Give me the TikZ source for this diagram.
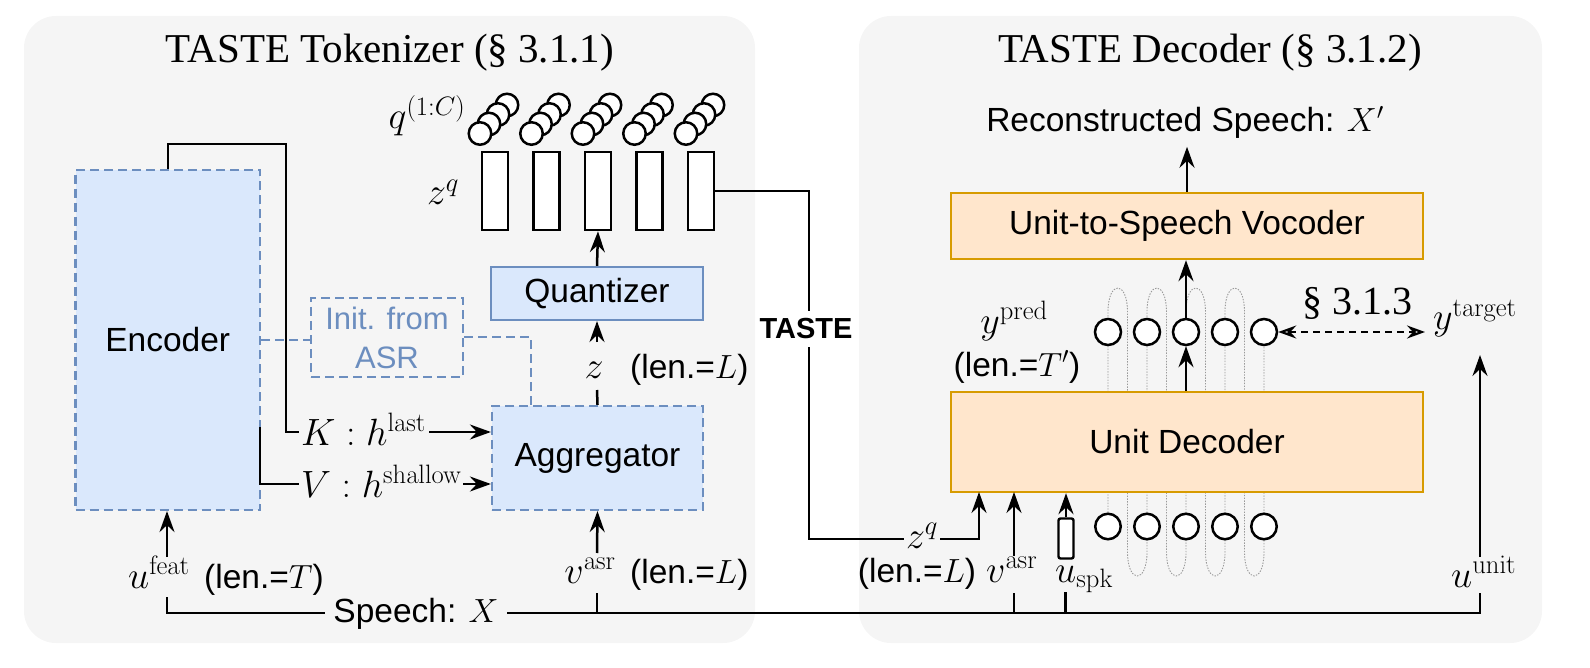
\RequirePackage{fix-cm}
\documentclass[tikz,border=0pt]{standalone}
\usepackage[no-math]{fontspec}
\newfontfamily\sfA{Liberation Sans}
\newfontfamily\serifT{Liberation Serif}
\usetikzlibrary{arrows.meta}
\definecolor{panel}{HTML}{F5F5F5}
\definecolor{bfill}{HTML}{DAE8FC}
\definecolor{bdraw}{HTML}{6C8EBF}
\definecolor{ofill}{HTML}{FFE6CC}
\definecolor{odraw}{HTML}{D79B00}
\definecolor{serpc}{HTML}{999999}
\begin{document}
\begin{tikzpicture}[x=1pt,y=-1pt,
  sf/.style={font=\sfA\fontsize{33.5}{40}\selectfont},
  mth/.style={font=\fontsize{38}{44}\selectfont},
  ttl/.style={font=\serifT\fontsize{41}{48}\selectfont},
  lab/.style={inner sep=0pt},
  conn/.style={line width=2.5pt, draw=black},
  arr/.style={conn, -{Stealth[length=21pt,width=15pt,inset=7pt]}},
  darr/.style={line width=2.2pt, draw=black, dash pattern=on 7pt off 5pt,
     {Stealth[open,length=18pt,width=13pt,inset=6pt]}-{Stealth[open,length=18pt,width=13pt,inset=6pt]}},
  bluebox/.style={draw=bdraw, fill=bfill, line width=2.2pt, inner sep=0pt, sf},
  bluedash/.style={bluebox, dash pattern=on 9pt off 5pt},
  initbox/.style={draw=bdraw, line width=2.2pt, dash pattern=on 9pt off 5pt, inner sep=0pt,
     text=bdraw, align=center, font=\sfA\fontsize{31}{39}\selectfont},
  initln/.style={draw=bdraw, line width=2.2pt, dash pattern=on 9pt off 5pt},
  orbox/.style={draw=odraw, fill=ofill, line width=2.4pt, inner sep=0pt, sf},
  circq/.style={circle, draw=black, fill=white, line width=2.5pt, minimum size=22.5pt, inner sep=0pt},
  circu/.style={circle, draw=black, fill=white, line width=2.5pt, minimum size=26pt, inner sep=0pt},
  zrect/.style={rectangle, draw=black, fill=white, line width=2.6pt, minimum width=26pt, minimum height=78pt, inner sep=0pt},
  spkrect/.style={rectangle, draw=black, fill=white, line width=2.4pt, rounded corners=2pt, minimum width=15pt, minimum height=40pt, inner sep=0pt},
  serp/.style={draw=serpc, line width=0.9pt, dash pattern=on 1.4pt off 1.4pt}
]
\useasboundingbox (0,0) rectangle (1590,668);
% panels
\fill[panel, rounded corners=32pt] (24,16) rectangle (755,643);
\fill[panel, rounded corners=32pt] (859,16) rectangle (1542,643);

% titles
\node[ttl, lab, anchor=base] (t1) at (390,63) {TASTE Tokenizer (§ 3.1.1)};
\node[ttl, lab, anchor=base] (t2) at (1210,63) {TASTE Decoder (§ 3.1.2)};

% serpentine dotted loops
\draw[serp] (1108,526.5) -- (1108,312) .. controls (1108,280) and (1127.5,280) .. (1127.5,312)
  -- (1127.5,552) .. controls (1127.5,584) and (1147,584) .. (1147,552)
  -- (1147,312) .. controls (1147,280) and (1166.5,280) .. (1166.5,312)
  -- (1166.5,552) .. controls (1166.5,584) and (1186,584) .. (1186,552)
  -- (1186,312) .. controls (1186,280) and (1205.5,280) .. (1205.5,312)
  -- (1205.5,552) .. controls (1205.5,584) and (1225,584) .. (1225,552)
  -- (1225,312) .. controls (1225,280) and (1244.5,280) .. (1244.5,312)
  -- (1244.5,552) .. controls (1244.5,584) and (1264,584) .. (1264,552)
  -- (1264,332);

% boxes
\node[bluedash, minimum width=184.5pt, minimum height=340pt] (enc) at (167.75,340) {Encoder};
\node[bluedash, minimum width=211pt, minimum height=104pt] (agg) at (597.5,458) {Aggregator};
\node[bluebox, minimum width=212pt, minimum height=53pt] (quant) at (597,293.5) {Quantizer};
\node[initbox, minimum width=152pt, minimum height=79pt] (init) at (387,337.5) {Init. from\\ASR};
\node[orbox, minimum width=472pt, minimum height=66pt] (voc) at (1187,226) {Unit-to-Speech Vocoder};
\node[orbox, minimum width=472pt, minimum height=100pt] (dec) at (1187,442) {Unit Decoder};

% codebook stacks (4 codes each) and z^q rects
\foreach \k in {0,...,4} {
  \pgfmathsetmacro\xr{495+51.5*\k}
  \node[circq] (qa\k) at (\xr+12,105) {};
  \node[circq] (qb\k) at (\xr+3,114.5) {};
  \node[circq] (qc\k) at (\xr-6,124) {};
  \node[circq] (qd\k) at (\xr-15,133.5) {};
  \node[zrect] (zq\k) at (\xr,191) {};
}

% decoder circles
\foreach \i/\x in {1/1108,2/1147,3/1186,4/1225,5/1264} {
  \node[circu] (yp\i) at (\x,332) {};
  \node[circu, minimum size=25.5pt] (ub\i) at (\x,526.5) {};
}
\node[spkrect] (spk) at (1066,538.5) {};

% init dashed connections
\draw[initln] (enc.east |- 0,340) -- (init.west |- 0,340);
\draw[initln] (init.east |- 0,337) -- (531,337) -- (agg.north -| 531,0);

% K and V
\draw[conn] (enc.north) |- (286,144) -- (286,432) -- (299,432);
\draw[conn] (260,427) -- (260,484) -- (299,484);
\node[mth, lab, anchor=base west] (klab) at (301,445) {$K : h^{\mathrm{last}}$};
\node[mth, lab, anchor=base west] (vlab) at (301,497) {$V : h^{\mathrm{shallow}}$};
\draw[arr] (klab.east |- 0,432) ++(3,0) -- (agg.west |- 0,432);
\draw[arr] (vlab.east |- 0,484) ++(1,0) -- (agg.west |- 0,484);

% aggregator -> quantizer -> z^q
\draw[conn] (agg.north) -- (597,390);
\draw[arr] (597,342) -- (quant.south);
\node[mth, lab, anchor=base] (zlab) at (594,378) {$z$};
\node[sf, lab, anchor=base west] (lenz) at (630,378) {(len.=$L$)};
\draw[arr] (quant.north) -- (zq2.south);

\node[mth, lab, anchor=base] (qlab) at (427,129) {$q^{(1:C)}$};
\node[mth, lab, anchor=base] (zqlab) at (443,205) {$z^q$};

% inputs left
\draw[arr] (167,557) -- (enc.south -| 167,0);
\draw[arr] (597,553) -- (agg.south);
\node[mth, lab, anchor=base west] (ufeat) at (128,588) {$u^{\mathrm{feat}}$};
\node[sf, lab, anchor=base west] (lent) at (204,588) {(len.=$T$)};
\node[mth, lab, anchor=base] (vasr) at (590,583) {$v^{\mathrm{asr}}$};
\node[sf, lab, anchor=base west] (lenl) at (630,583) {(len.=$L$)};

% speech line
\draw[conn] (167,597) |- (1480,613) -- (1480,593);
\draw[conn] (597,613) -- (597,593);
\draw[conn] (1014,613) -- (1014,593);
\draw[conn] (1065.5,613) -- (1065.5,592);
\node[sf, anchor=base, fill=panel, inner xsep=8pt, inner ysep=2pt] (speech) at (416,622) {Speech: $X$};

% TASTE token path
\draw[arr] (zq4.east) -- (809,191) -- (809,539) -- (979,539) -- (979,492);
\node[font=\sfA\bfseries\fontsize{29}{34}\selectfont, fill=white, inner xsep=0pt, inner ysep=8pt] (taste) at (806,329) {TASTE};
\node[mth, anchor=base, fill=panel, inner xsep=2pt, inner ysep=1pt] (zqr) at (922,548) {$z^q$};
\node[sf, lab, anchor=base] (lenlr) at (917,582) {(len.=$L$)};

% decoder inputs
\draw[arr] (1014,556) -- (1014,492);
\node[mth, lab, anchor=base west] (vasrr) at (986,582) {$v^{\mathrm{asr}}$};
\draw[arr] (spk.north) -- (spk.north |- dec.south);
\node[mth, lab, anchor=base west] (uspk) at (1055,582) {$u_{\mathrm{spk}}$};

% decoder outputs
\draw[arr] (yp3.south |- dec.north) -- (yp3.south);
\draw[arr] (yp3.north) -- (yp3.north |- voc.south);
\draw[arr] (voc.north) -- ++(0,-45) coordinate (reconend);
\node[sf, lab, anchor=base] (recon) at (1185,132) {Reconstructed Speech: $X'$};

\node[mth, lab, anchor=base] (ypred) at (1014,333) {$y^{\mathrm{pred}}$};
\node[sf, lab, anchor=base] (lentp) at (1017,376) {(len.=$T'$)};
\node[ttl, lab, anchor=base, font=\serifT\fontsize{40}{46}\selectfont] (sec) at (1357,315) {§ 3.1.3};
\coordinate (ytend) at (1425,332);
\draw[darr] (yp5.east) -- (ytend);
\node[mth, lab, anchor=base west] (ytarget) at (1433,330) {$y^{\mathrm{target}}$};

\node[mth, lab, anchor=base west] (uunit) at (1451,587) {$u^{\mathrm{unit}}$};
\draw[arr] (1480,557) -- (1480,355);
\end{tikzpicture}
\end{document}
